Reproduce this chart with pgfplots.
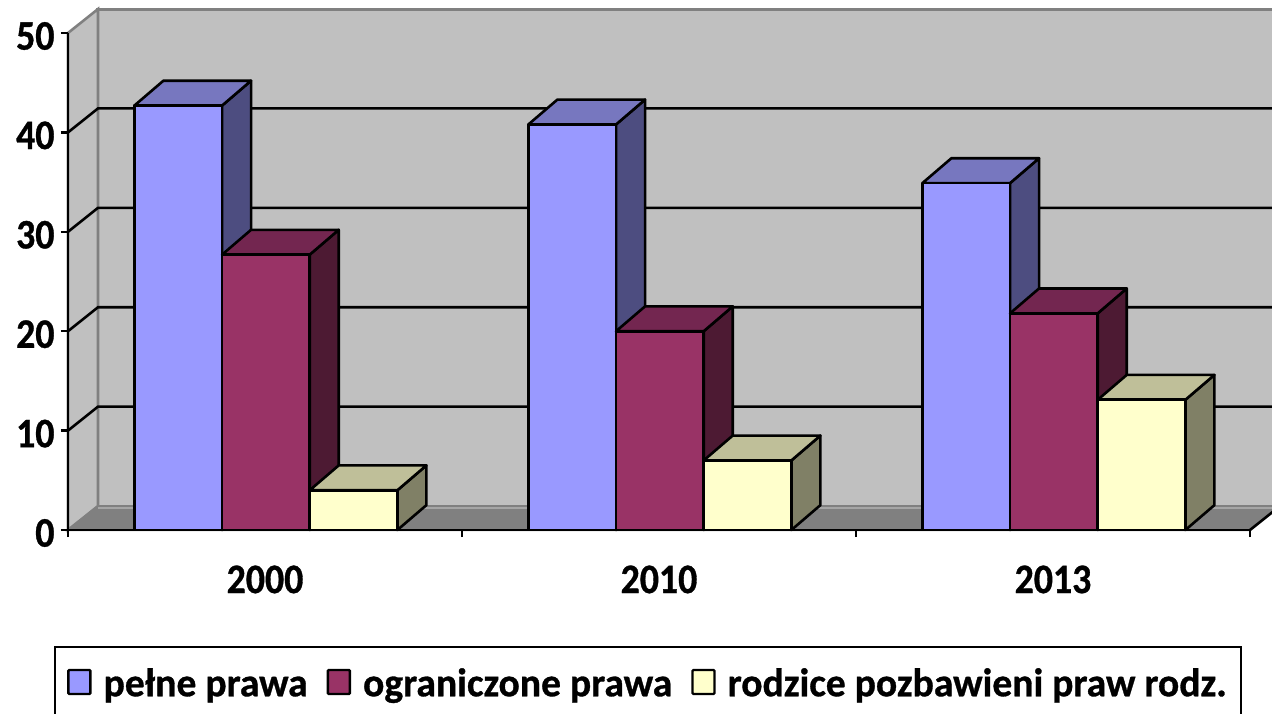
\documentclass[border=0pt]{standalone}
\usepackage{pgfplots}
\pgfplotsset{compat=1.18}
\usepackage{fontspec}
\setmainfont[FakeStretch=0.9,BoldFeatures={FakeBold=0.8}]{Carlito}
\newfontfamily\legfont[FakeStretch=0.99,BoldFeatures={FakeBold=0.8}]{Carlito}
\definecolor{wall}{HTML}{C0C0C0}
\definecolor{edge}{HTML}{808080}
\definecolor{bF}{HTML}{9999FF}\definecolor{bT}{HTML}{7777BF}\definecolor{bS}{HTML}{4D4D80}
\definecolor{rF}{HTML}{993366}\definecolor{rT}{HTML}{732650}\definecolor{rS}{HTML}{4D1A33}
\definecolor{yF}{HTML}{FFFFCC}\definecolor{yT}{HTML}{BFBF99}\definecolor{yS}{HTML}{808066}
% #1 left edge, #2 right edge, #3 value, #4 colour prefix
\newcommand{\threeDbar}[4]{%
  \addplot[forget plot,draw=black,line width=2.6pt,line join=round,fill=#4S] coordinates {(#2,0)(#2+0.0736,2.5)(#2+0.0736,#3+2.5)(#2,#3)} --cycle;
  \addplot[forget plot,draw=black,line width=2.6pt,line join=round,fill=#4T] coordinates {(#1,#3)(#2,#3)(#2+0.0736,#3+2.5)(#1+0.0736,#3+2.5)} --cycle;
  \addplot[forget plot,draw=black,line width=2.6pt,line join=round,fill=#4F] coordinates {(#1,0)(#2,0)(#2,#3)(#1,#3)} --cycle;
}
\newcommand{\gridln}[1]{%
  \addplot[forget plot,black,line width=2.6pt] coordinates {(0,#1)(0.0761,#1+2.41)(3.0761,#1+2.41)};
}
\pgfplotsset{legsq/.style={legend image code/.code={
  \draw[#1,draw=black,line width=2.4pt,rounded corners=1pt] (0pt,-11pt) rectangle (22pt,13pt);}}}
\begin{document}
\begin{tikzpicture}
\clip (0,0) rectangle (1272pt,713pt);
\begin{axis}[
  at={(68pt,183pt)},anchor=south west,
  scale only axis,width=1182pt,height=497pt,
  xmin=0,xmax=3,ymin=0,ymax=50,clip=false,
  axis lines=left,axis line style={-,line width=2.6pt,black},
  tick style={black,line width=2.4pt},major tick length=7pt,tick align=outside,
  xtick={0,1,2,3},xticklabels={2000,2010,2013},x tick label as interval,
  ytick={0,10,20,30,40,50},
  /pgf/number format/assume math mode=true,
  tick label style={font=\fontsize{42}{46}\selectfont\bfseries},
  x tick label style={yshift=-25pt},
  y tick label style={xshift=-3pt,yshift=-3pt},
  axis on top,
  legend columns=3,
  legend style={at={(-0.01184,-0.2334)},anchor=north west,draw=black,line width=2.4pt,
    font=\fontsize{40}{44}\legfont\selectfont\bfseries,inner xsep=12pt,inner ysep=19pt,
    /tikz/every even column/.append style={column sep=17pt},
    /tikz/every odd column/.append style={column sep=10pt}},
  legend cell align=left,
]
% walls and floor
\addplot[forget plot,draw=edge,line width=3pt,fill=wall] coordinates {(0.0761,2.41)(3.0761,2.41)(3.0761,52.41)(0.0761,52.41)} --cycle;
\addplot[forget plot,draw=edge,line width=2.6pt,fill=wall] coordinates {(0,0)(0.0761,2.41)(0.0761,52.41)(0,50)} --cycle;
\addplot[forget plot,draw=edge,line width=2pt,fill=edge] coordinates {(0,0)(3,0)(3.0761,2.41)(0.0761,2.41)} --cycle;
\addplot[forget plot,color=edge!70!white,line width=2pt] coordinates {(0.0761,2.2)(3.0761,2.2)};
\addplot[forget plot,black,line width=2.6pt] coordinates {(3,0)(3.0761,2.41)};
\gridln{10}\gridln{20}\gridln{30}\gridln{40}
% pelne prawa
\threeDbar{0.1685}{0.3910}{42.7}{b}
\threeDbar{1.1685}{1.3910}{40.8}{b}
\threeDbar{2.1685}{2.3910}{34.9}{b}
% ograniczone prawa
\threeDbar{0.3910}{0.6135}{27.7}{r}
\threeDbar{1.3910}{1.6135}{20.0}{r}
\threeDbar{2.3910}{2.6135}{21.8}{r}
% rodzice pozbawieni
\threeDbar{0.6135}{0.8360}{4.0}{y}
\threeDbar{1.6135}{1.8360}{7.0}{y}
\threeDbar{2.6135}{2.8360}{13.1}{y}
\addlegendimage{legsq={fill=bF}}\addlegendentry{pełne prawa}
\addlegendimage{legsq={fill=rF}}\addlegendentry{ograniczone prawa}
\addlegendimage{legsq={fill=yF}}\addlegendentry{rodzice pozbawieni praw rodz.}
\end{axis}
\end{tikzpicture}
\end{document}
